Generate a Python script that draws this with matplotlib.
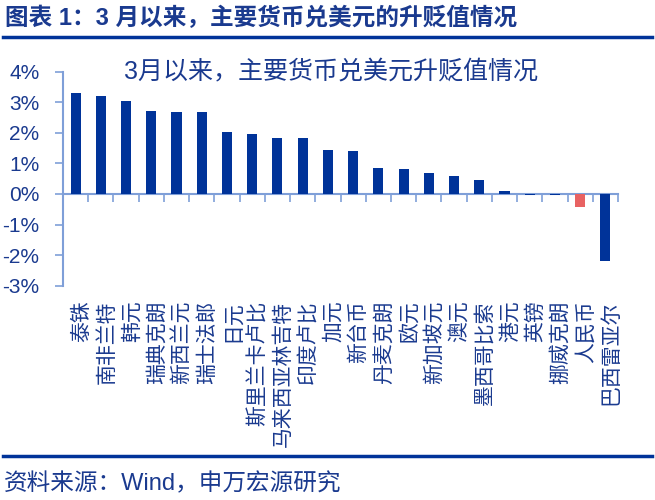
import matplotlib
matplotlib.use("Agg")
import matplotlib.pyplot as plt
import matplotlib.transforms as mtransforms
from matplotlib.lines import Line2D
import numpy as np

plt.rcParams['font.family'] = ['Liberation Sans', 'Noto Sans CJK SC', 'DejaVu Sans']

currencies = ['泰铢', '南非兰特', '韩元', '瑞典克朗', '新西兰元', '瑞士法郎', '日元',
              '斯里兰卡卢比', '马来西亚林吉特', '印度卢比', '加元', '新台币', '丹麦克朗',
              '欧元', '新加坡元', '澳元', '墨西哥比索', '港元', '英镑', '挪威克朗',
              '人民币', '巴西雷亚尔']
changes = [3.29, 3.20, 3.04, 2.70, 2.69, 2.68, 2.02, 1.97, 1.84, 1.84, 1.43, 1.41,
           0.85, 0.83, 0.68, 0.60, 0.47, 0.11, -0.03, -0.02, -0.44, -2.18]
highlight = '人民币'
yticks = [4, 3, 2, 1, 0, -1, -2, -3]

NAVY = '#1a3a8f'
BAR = '#003399'
RED = '#e86262'
AXC = '#7f9fd8'

fig = plt.figure(figsize=(6.55, 5.0), dpi=100)
ax = fig.add_axes([63/655, 1-285.7/500, (618-63)/655, (285.7-71.7)/500])

x = np.arange(len(currencies))
colors = [RED if c == highlight else BAR for c in currencies]
ax.bar(x, changes, width=0.4, color=colors, zorder=3)

ax.set_xlim(-0.5, len(currencies) - 0.5)
ax.set_ylim(-3, 4)
ax.set_yticks(yticks)
ax.set_yticklabels([f'{v}%' for v in yticks])
ax.tick_params(axis='y', direction='out', length=6, width=1.2, color=AXC,
               labelcolor=NAVY, labelsize=15, pad=11)

for s in ['top', 'right']:
    ax.spines[s].set_visible(False)
ax.spines['left'].set_color(AXC)
ax.spines['left'].set_linewidth(1.5)
ax.spines['bottom'].set_position(('data', 0))
ax.spines['bottom'].set_color(AXC)
ax.spines['bottom'].set_linewidth(1.5)
ax.set_xticks(x)
ax.set_xticklabels([])
ax.tick_params(axis='x', which='major', length=0)
ax.set_xticks(np.arange(len(currencies) + 1) - 0.5, minor=True)
ax.tick_params(axis='x', which='minor', direction='out', length=6, width=1.2, color=AXC)

# category labels below plot area
offset = mtransforms.ScaledTranslation(4/72, 0, fig.dpi_scale_trans)
trans = mtransforms.blended_transform_factory(ax.transData, ax.transAxes) + offset
for xi, name in zip(x, currencies):
    ax.text(xi, -0.07, name, transform=trans, rotation=90, ha='center', va='top',
            fontsize=15, color=NAVY)

# inner title
ax.text(0.483, 1.0, '3月以来，主要货币兑美元升贬值情况', transform=ax.transAxes,
        ha='center', va='center', fontsize=18, color=NAVY)

# header
fig.text(5/655, 1-18/500, '图表 1：3 月以来，主要货币兑美元的升贬值情况',
         ha='left', va='center', fontsize=17, fontweight='bold', color=NAVY)
fig.add_artist(Line2D([3/655, 652/655], [1-37/500, 1-37/500], color='#003399',
                      linewidth=2.5, transform=fig.transFigure))
fig.add_artist(Line2D([3/655, 652/655], [1-456/500, 1-456/500], color='#003399',
                      linewidth=2.5, transform=fig.transFigure))
fig.text(4/655, 1-484/500, '资料来源：Wind，申万宏源研究', ha='left', va='center',
         fontsize=17, color=NAVY)

fig.savefig('out.png', dpi=100)
